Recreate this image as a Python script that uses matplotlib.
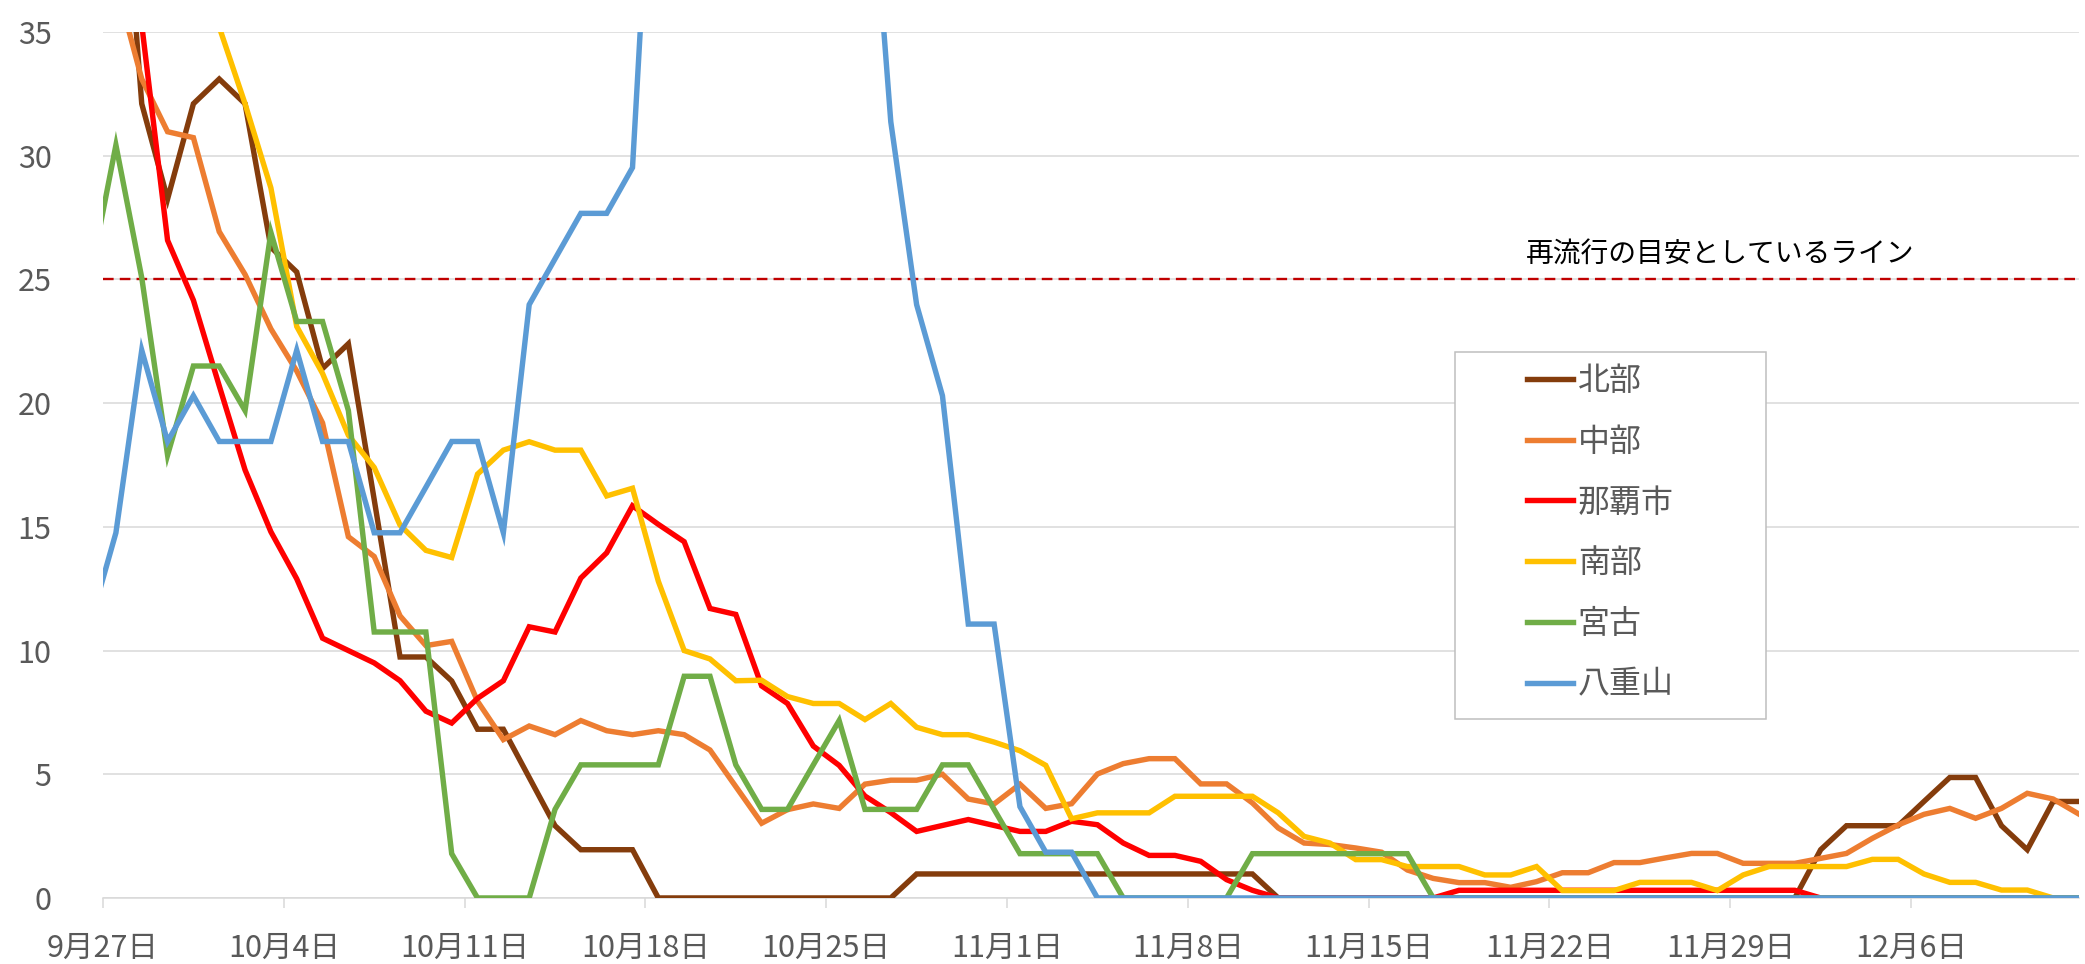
import numpy as np
import pandas as pd
import matplotlib.pyplot as plt
from matplotlib.patches import Rectangle

plt.rcParams['font.family'] = ['Noto Sans CJK JP', 'DejaVu Sans']

# daily values, 9/26 .. 12/12 (9/26 sits just left of the axis and is clipped)
dates = pd.date_range('2020-09-26', '2020-12-12', freq='D')

hokubu = [48.0, 45.8, 32.1, 28.25, 32.1, 33.1, 32.1, 26.3, 25.3, 21.4, 22.4,
          16.1, 9.74, 9.74, 8.77, 6.82, 6.82, 4.87, 2.92, 1.95, 1.95, 1.95,
          0, 0, 0, 0, 0, 0, 0, 0, 0, 0,
          0.97, 0.97, 0.97, 0.97, 0.97, 0.97, 0.97, 0.97, 0.97, 0.97, 0.97, 0.97, 0.97, 0.97,
          0, 0, 0, 0, 0, 0, 0, 0, 0, 0, 0, 0, 0, 0, 0, 0, 0, 0, 0, 0, 0,
          1.95, 2.92, 2.92, 2.92, 3.9, 4.87, 4.87, 2.92, 1.95, 3.9, 3.9]

chubu = [39.0, 37.0, 33.1, 30.97, 30.73, 26.93, 25.2, 23.0, 21.3, 19.2, 14.6,
         13.8, 11.4, 10.2, 10.37, 7.95, 6.4, 6.95, 6.6, 7.17, 6.76, 6.6,
         6.76, 6.6, 5.98, 4.5, 3.02, 3.57, 3.8, 3.62, 4.6, 4.76,
         4.76, 5.0, 4.0, 3.8, 4.6, 3.62, 3.81, 5.01, 5.43, 5.63, 5.63,
         4.61, 4.61, 3.84, 2.83, 2.22, 2.16, 2.02, 1.85, 1.13, 0.79,
         0.62, 0.62, 0.43, 0.66, 1.02, 1.02, 1.43, 1.43, 1.62, 1.8, 1.8,
         1.4, 1.4, 1.4, 1.6, 1.8, 2.41, 2.95, 3.38, 3.62, 3.22, 3.62,
         4.23, 4.0, 3.39]

naha = [50.0, 45.0, 35.3, 26.58, 24.16, 20.7, 17.3, 14.8, 12.9, 10.5, 10.0,
        9.5, 8.78, 7.55, 7.07, 8.07, 8.78, 10.96, 10.75, 12.93, 13.95, 15.85,
        15.1, 14.4, 11.7, 11.46, 8.57, 7.86, 6.14, 5.36, 4.12, 3.45,
        2.69, 2.93, 3.17, 2.93, 2.69, 2.69, 3.1, 2.96, 2.22, 1.72, 1.72,
        1.48, 0.74, 0.31, 0,
        0, 0, 0, 0, 0, 0,
        0.31, 0.31, 0.31, 0.31, 0.31, 0.31, 0.31, 0.31, 0.31, 0.31, 0.31, 0.31, 0.31, 0.31,
        0, 0, 0, 0, 0, 0, 0, 0, 0, 0, 0]

nanbu = [52.0, 49.0, 46.0, 43.0, 39.5, 35.2, 32.1, 28.7, 23.1, 21.2, 18.7,
         17.4, 15.07, 14.05, 13.76, 17.13, 18.1, 18.44, 18.1, 18.1, 16.25, 16.56,
         12.8, 10.0, 9.66, 8.78, 8.8, 8.14, 7.86, 7.86, 7.21, 7.86,
         6.9, 6.6, 6.6, 6.3, 5.95, 5.36, 3.2, 3.44, 3.44, 3.44, 4.11,
         4.11, 4.11, 4.11, 3.44, 2.49, 2.22, 1.55, 1.55, 1.27, 1.27,
         1.27, 0.93, 0.93, 1.27, 0.3, 0.3, 0.3, 0.63, 0.63, 0.63, 0.3,
         0.93, 1.27, 1.27, 1.27, 1.27, 1.56, 1.56, 0.97, 0.63, 0.63, 0.32,
         0.32, 0, 0]

miyako = [25.07, 30.43, 25.07, 17.9, 21.5, 21.5, 19.7, 26.9, 23.3, 23.3, 19.7,
          10.75, 10.75, 10.75, 1.79, 0, 0, 0, 3.58, 5.38, 5.38, 5.38,
          5.38, 8.96, 8.96, 5.38, 3.58, 3.58, 5.38, 7.17, 3.58, 3.58,
          3.58, 5.38, 5.38, 3.58, 1.79, 1.79, 1.79, 1.79,
          0, 0, 0, 0, 0,
          1.79, 1.79, 1.79, 1.79, 1.79, 1.79, 1.79,
          0, 0, 0, 0, 0, 0, 0, 0, 0, 0, 0, 0, 0, 0, 0, 0, 0, 0, 0, 0,
          0, 0, 0, 0, 0, 0]

yaeyama = [11.07, 14.76, 22.14, 18.45, 20.3, 18.45, 18.45, 18.45, 22.14, 18.45, 18.45,
           14.76, 14.76, 16.6, 18.45, 18.45, 14.76, 23.98, 25.83, 27.67, 27.67, 29.52,
           48.0, 62.0, 72.0, 77.0, 77.0, 70.0, 62.0, 53.0, 45.0, 31.37,
           23.98, 20.3, 11.07, 11.07, 3.69, 1.85, 1.85,
           0, 0, 0, 0, 0, 0, 0, 0, 0, 0, 0, 0, 0, 0, 0, 0, 0, 0, 0, 0,
           0, 0, 0, 0, 0, 0, 0, 0, 0, 0, 0, 0, 0, 0, 0, 0, 0, 0, 0]

names = ['北部', '中部', '那覇市', '南部', '宮古', '八重山']
colors = ['#843C0C', '#ED7D31', '#FF0000', '#FFC000', '#70AD47', '#5B9BD5']
threshold = 25
threshold_label = '再流行の目安としているライン'

series = [hokubu, chubu, naha, nanbu, miyako, yaeyama]

# each day is drawn in the middle of its slot, week ticks sit on the slot edges
x = np.arange(len(dates)) - 0.5
tick_idx = np.arange(1, len(dates), 7)
tick_labels = [f'{d.month}月{d.day}日' for d in dates[tick_idx]]

fig = plt.figure(figsize=(20.85, 9.64), dpi=100)
ax = fig.add_axes([0.0494, 0.0685, 0.9477, 0.8983])

for vals, name, c in zip(series, names, colors):
    ax.plot(x, vals, color=c, lw=3.9, label=name, solid_joinstyle='miter', zorder=3)

ax.axhline(threshold, color='#C00000', lw=1.7, linestyle=(0, (4.5, 2.6)), zorder=2)
ax.text(62.6, 26.0, threshold_label, ha='center', va='center', fontsize=20, color='black')

ax.set_xlim(0, len(dates) - 1.5)
ax.set_ylim(0, 35)
ax.set_yticks(np.arange(0, 36, 5))
ax.set_xticks(tick_idx - 1)
ax.set_xticklabels(tick_labels)

ax.yaxis.grid(True, color='#D9D9D9', lw=1.1)
ax.set_axisbelow(True)
for s in ['top', 'right', 'left']:
    ax.spines[s].set_visible(False)
ax.spines['bottom'].set_color('#D9D9D9')
ax.spines['bottom'].set_linewidth(1.1)

ax.tick_params(axis='y', length=0, pad=37, labelsize=22, labelcolor='#595959')
ax.tick_params(axis='x', length=7, width=1.1, color='#D9D9D9', pad=18,
               labelsize=22, labelcolor='#595959')

# legend box like the Excel one: white panel with a light grey border
frame = Rectangle((0.684, 0.2067), 0.1576, 0.4238, transform=ax.transAxes,
                  facecolor='white', edgecolor='#BFBFBF', lw=1.1, zorder=5)
ax.add_patch(frame)
leg = ax.legend(loc='upper left', bbox_to_anchor=(0.7206, 0.6155), frameon=False,
                fontsize=23, handlelength=1.44, handletextpad=0.15,
                labelspacing=0.9, borderpad=0, borderaxespad=0)
leg.set_zorder(6)
for t in leg.get_texts():
    t.set_color('#595959')

fig.savefig('out.png', dpi=100)
